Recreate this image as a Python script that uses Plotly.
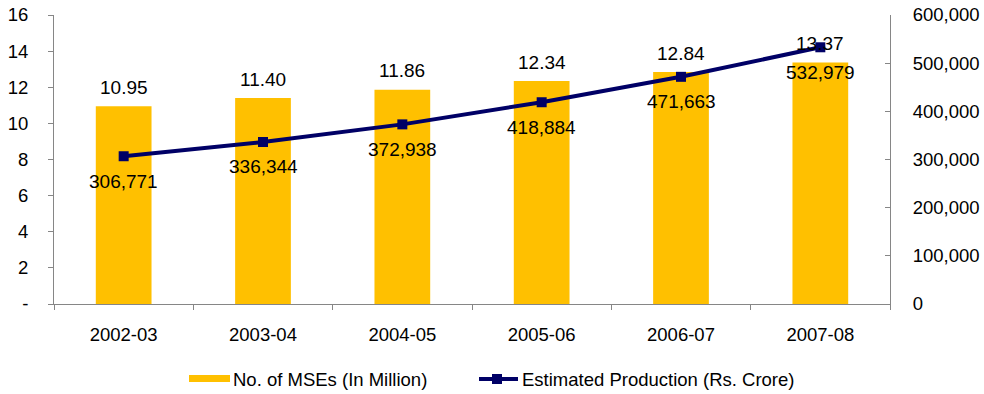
import plotly.graph_objects as go

# Data
years = ["2002-03", "2003-04", "2004-05", "2005-06", "2006-07", "2007-08"]
mse_count = [10.95, 11.40, 11.86, 12.34, 12.84, 13.37]          # No. of MSEs (In Million)
production = [306771, 336344, 372938, 418884, 471663, 532979]    # Rs. Crore

left_ticks = [0, 2, 4, 6, 8, 10, 12, 14, 16]
left_ticktext = ["-", "2", "4", "6", "8", "10", "12", "14", "16"]
right_ticks = [0, 100000, 200000, 300000, 400000, 500000, 600000]

BAR_COLOR = "#FFC000"
LINE_COLOR = "#000066"
AXIS_COLOR = "#868686"
FONT = "Liberation Sans, Arial, sans-serif"
TICK_SIZE = 18.5
LABEL_SIZE = 19
LEGEND_SIZE = 18.5

W, H = 984, 394
L, R, T, B = 54, 890, 15, 304   # plot area in pixels


def px(x):
    return (x - L) / (R - L)


def py(y):
    return (B - y) / (B - T)


fig = go.Figure()

fig.add_trace(go.Bar(
    x=years, y=mse_count, name="No. of MSEs (In Million)",
    marker=dict(color=BAR_COLOR, line=dict(width=0)),
    yaxis="y", showlegend=False,
))

fig.add_trace(go.Scatter(
    x=years, y=production, name="Estimated Production (Rs. Crore)",
    mode="lines+markers",
    line=dict(color=LINE_COLOR, width=4),
    marker=dict(symbol="square", size=10, color=LINE_COLOR),
    yaxis="y2", showlegend=False, cliponaxis=False,
))

annotations = []
for yr, v in zip(years, mse_count):
    annotations.append(dict(
        x=yr, y=v, xref="x", yref="y", text=f"{v:.2f}", showarrow=False,
        yshift=19, font=dict(family=FONT, size=LABEL_SIZE, color="#000000"),
    ))
for yr, v in zip(years, production):
    annotations.append(dict(
        x=yr, y=v, xref="x", yref="y2", text=f"{v:,}", showarrow=False,
        yshift=-25, font=dict(family=FONT, size=LABEL_SIZE, color="#000000"),
    ))

# Legend drawn beneath the plot
annotations.append(dict(
    x=px(231), y=py(379), xref="paper", yref="paper", xanchor="left", yanchor="middle",
    text="No. of MSEs (In Million)", showarrow=False,
    font=dict(family=FONT, size=LEGEND_SIZE, color="#000000"),
))
annotations.append(dict(
    x=px(520), y=py(379), xref="paper", yref="paper", xanchor="left", yanchor="middle",
    text="Estimated Production (Rs. Crore)", showarrow=False,
    font=dict(family=FONT, size=LEGEND_SIZE, color="#000000"),
))

shapes = [
    dict(type="rect", xref="paper", yref="paper",
         x0=px(189), x1=px(230), y0=py(382), y1=py(375),
         fillcolor=BAR_COLOR, line=dict(width=0)),
    dict(type="line", xref="paper", yref="paper",
         x0=px(479), x1=px(518), y0=py(379), y1=py(379),
         line=dict(color=LINE_COLOR, width=4)),
    dict(type="rect", xref="paper", yref="paper",
         x0=px(492), x1=px(502), y0=py(384), y1=py(374),
         fillcolor=LINE_COLOR, line=dict(width=0)),
]

fig.update_layout(
    width=W, height=H,
    margin=dict(l=L, r=W - R, t=T, b=H - B),
    paper_bgcolor="white", plot_bgcolor="white",
    font=dict(family=FONT, size=TICK_SIZE, color="#000000"),
    bargap=0.6,
    showlegend=False,
    xaxis=dict(
        type="category", showgrid=False, zeroline=False, automargin=False,
        showline=True, linecolor=AXIS_COLOR, linewidth=1,
        ticks="outside", ticklen=5, tickcolor=AXIS_COLOR, tickson="boundaries",
        tickfont=dict(family=FONT, size=TICK_SIZE), ticklabelstandoff=14,
    ),
    yaxis=dict(
        range=[0, 16], tickvals=left_ticks, ticktext=left_ticktext,
        showgrid=False, zeroline=False, automargin=False,
        showline=True, linecolor=AXIS_COLOR, linewidth=1,
        ticks="outside", ticklen=5, tickcolor=AXIS_COLOR,
        tickfont=dict(family=FONT, size=TICK_SIZE), ticklabelstandoff=16,
    ),
    yaxis2=dict(
        range=[0, 600000], tickvals=right_ticks, tickformat=",d",
        overlaying="y", side="right", automargin=False,
        showgrid=False, zeroline=False,
        showline=True, linecolor=AXIS_COLOR, linewidth=1,
        ticks="inside", ticklen=5, tickcolor=AXIS_COLOR,
        tickfont=dict(family=FONT, size=TICK_SIZE), ticklabelstandoff=18,
    ),
    annotations=annotations,
    shapes=shapes,
)

fig.write_html("out.html")
